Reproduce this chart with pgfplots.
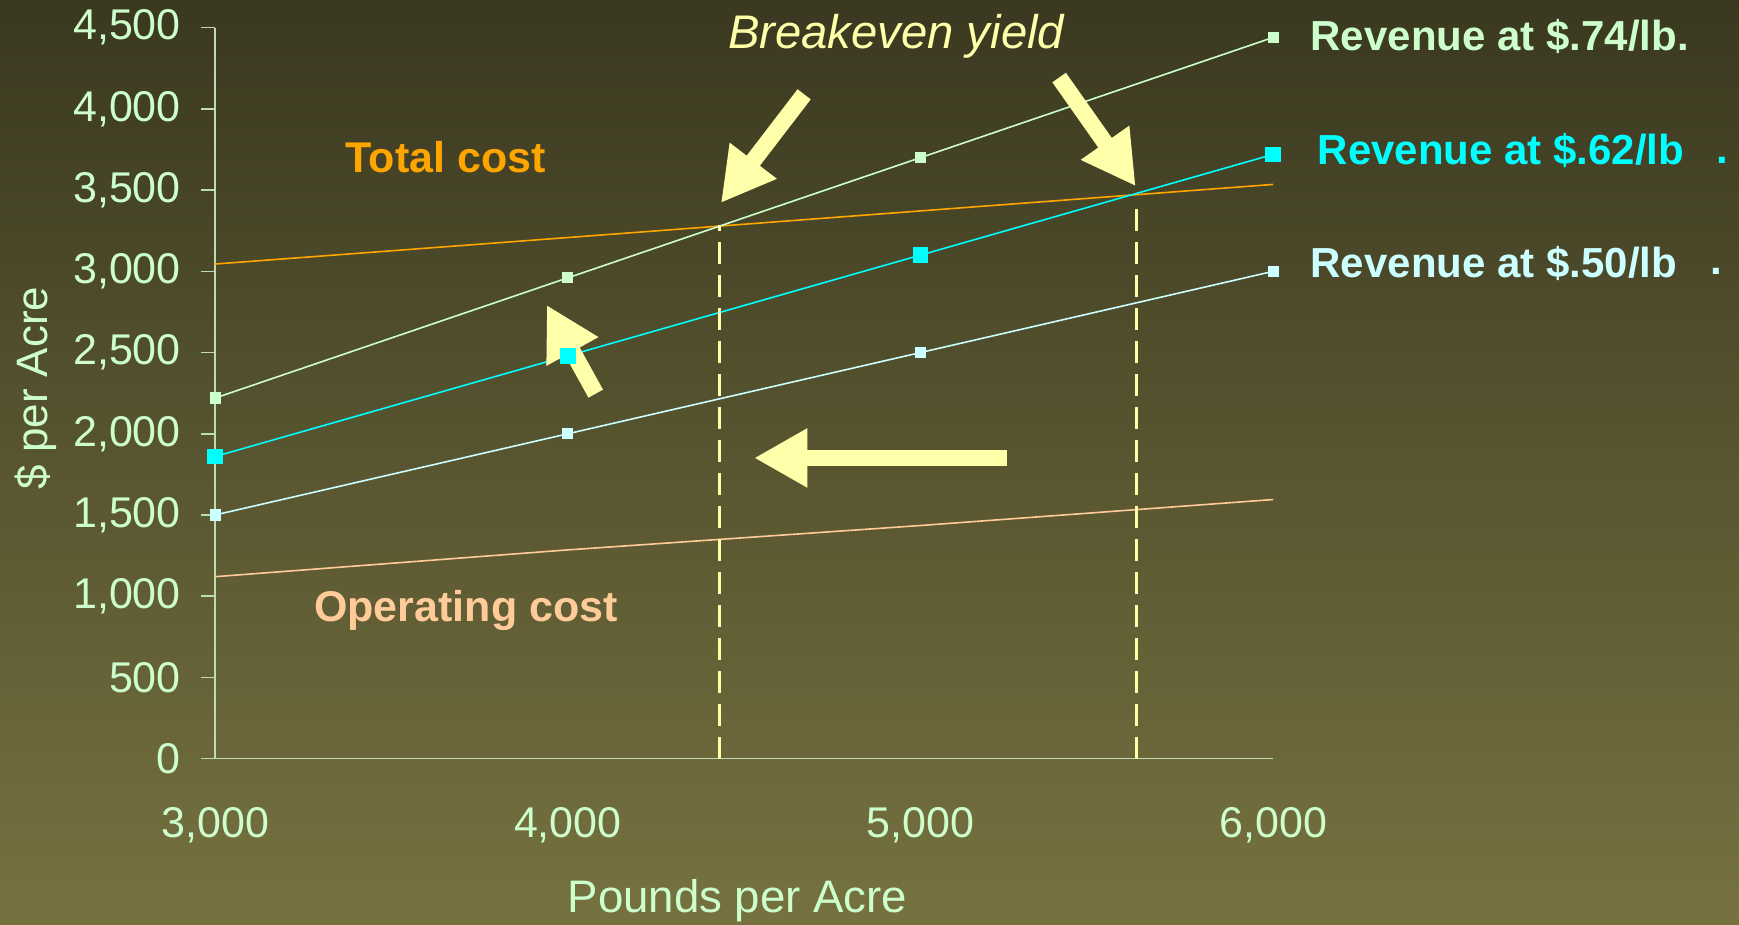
\documentclass[border=0pt]{standalone}
\usepackage{pgfplots}
\pgfplotsset{compat=1.18}
\usepackage{fontspec}
\setmainfont{Liberation Sans}
\usetikzlibrary{arrows.meta}
\definecolor{bgtop}{RGB}{58,56,32}
\definecolor{bgbot}{RGB}{118,114,64}
\definecolor{palegreen}{RGB}{204,255,204}
\definecolor{palecyan}{RGB}{204,255,255}
\definecolor{rcyan}{RGB}{0,255,255}
\definecolor{axcol}{RGB}{190,220,180}
\definecolor{tcost}{RGB}{255,165,0}
\definecolor{ocost}{RGB}{255,204,153}
\definecolor{lyellow}{RGB}{255,255,170}
\begin{document}
\begin{tikzpicture}
\shade[top color=bgtop, bottom color=bgbot] (0,0) rectangle (869.5pt,462.5pt);
\useasboundingbox (0,0) rectangle (869.5pt,462.5pt);
\begin{axis}[
  at={(107.6pt,83.2pt)}, anchor=south west,
  scale only axis, width=529pt, height=365.45pt,
  xmin=3000, xmax=6000, ymin=0, ymax=4500,
  axis lines*=left,
  axis line style={axcol, line width=0.8pt},
  xtick={3000,4000,5000,6000},
  ytick={0,500,...,4500},
  tick align=outside, major tick length=7pt,
  ytick style={axcol, line width=0.8pt},
  xtick style={draw=none},
  /pgf/number format/assume math mode=true,
  /pgf/number format/.cd, 1000 sep={,}, /pgfplots/.cd,
  scaled ticks=false,
  ticklabel style={font=\fontsize{21.5pt}{25pt}\selectfont, text=palegreen},
  yticklabel style={anchor=east, inner sep=0pt, xshift=-10pt},
  xticklabel style={anchor=north, inner sep=0pt, yshift=-17pt},
  xlabel={Pounds per Acre},
  ylabel={\$ per Acre},
  xlabel style={at={(axis description cs:0.4937,-0.19414)}, anchor=center, font=\fontsize{22.8pt}{26pt}\selectfont, text=palegreen},
  ylabel style={at={(axis description cs:-0.16985,0.507)}, anchor=center, font=\fontsize{22pt}{26pt}\selectfont, text=palegreen},
  clip=false,
]
% total cost
\addplot[tcost, line width=0.8pt, no markers] coordinates {(3000,3045) (4000,3208) (5000,3372) (6000,3535)};
% operating cost
\addplot[ocost, line width=0.8pt, no markers] coordinates {(3000,1120) (4000,1285) (5000,1435) (6000,1595)};
% revenue .74
\addplot[palegreen, line width=0.8pt, mark=square*, mark size=2.4pt, mark options={solid, fill=palegreen, draw=palegreen}] coordinates {(3000,2220) (4000,2960) (5000,3700) (6000,4440)};
% revenue .62
\addplot[rcyan, line width=0.8pt, mark=square*, mark size=3.5pt, mark options={solid, fill=rcyan, draw=rcyan}] coordinates {(3000,1860) (4000,2480) (5000,3100) (6000,3720)};
% revenue .50
\addplot[palecyan, line width=0.8pt, mark=square*, mark size=2.4pt, mark options={solid, fill=palecyan, draw=palecyan}] coordinates {(3000,1500) (4000,2000) (5000,2500) (6000,3000)};
% breakeven yields
\addplot[lyellow, line width=1.4pt, dash pattern=on 11pt off 5.5pt, no markers] coordinates {(4431,0) (4431,3285)};
\addplot[lyellow, line width=1.4pt, dash pattern=on 11pt off 5.5pt, no markers] coordinates {(5612,0) (5612,3440)};
% arrows
\draw[lyellow, line width=8.3pt, -{Triangle[length=26.6pt, width=27.7pt]}] (axis cs:4670,4090) -- (axis cs:4434,3421);
\draw[lyellow, line width=8.3pt, -{Triangle[length=26.6pt, width=27.7pt]}] (axis cs:5393,4193) -- (axis cs:5610,3524);
\draw[lyellow, line width=8.3pt, -{Triangle[length=26.6pt, width=27.7pt]}] (axis cs:4079,2247) -- (axis cs:3940,2793);
\draw[lyellow, line width=8.3pt, -{Triangle[length=26.6pt, width=27.7pt]}] (axis cs:5245,1851) -- (axis cs:4528,1851);
% labels
\node[anchor=center, text=tcost, font=\fontsize{21.5pt}{25pt}\selectfont\bfseries] at (axis cs:3654,3701) {Total cost};
\node[anchor=center, text=ocost, font=\fontsize{21.5pt}{25pt}\selectfont\bfseries] at (axis cs:3711,909) {Operating cost};
\node[anchor=center, text=lyellow, font=\fontsize{23.6pt}{27pt}\selectfont\itshape] at (axis cs:4931,4445) {Breakeven yield};
\node[anchor=west, inner sep=0pt, text=palegreen, font=\fontsize{21pt}{25pt}\selectfont\bfseries] at (axis cs:6105,4445) {Revenue at \$.74/lb.};
\node[anchor=west, inner sep=0pt, text=rcyan, font=\fontsize{21pt}{25pt}\selectfont\bfseries] at (axis cs:6125,3747) {Revenue at \$.62/lb};
\node[anchor=west, inner sep=0pt, text=palecyan, font=\fontsize{21pt}{25pt}\selectfont\bfseries] at (axis cs:6105,3051) {Revenue at \$.50/lb};
\node[anchor=center, inner sep=0pt, text=rcyan, font=\fontsize{21pt}{25pt}\selectfont\bfseries] at (axis cs:7273,3681) {.};
\node[anchor=center, inner sep=0pt, text=palecyan, font=\fontsize{21pt}{25pt}\selectfont\bfseries] at (axis cs:7256,2998) {.};
\end{axis}
\end{tikzpicture}
\end{document}
